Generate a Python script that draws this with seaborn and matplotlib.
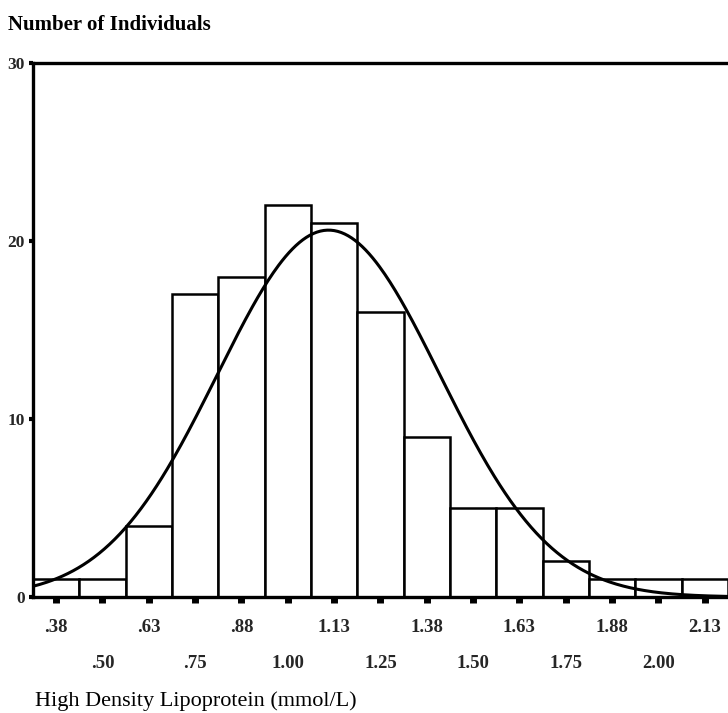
import numpy as np
import pandas as pd
import matplotlib
matplotlib.use("Agg")
import matplotlib.pyplot as plt
import seaborn as sns

# HDL bins (mmol/L, bin centres) and number of individuals per bin
bin_centers = [0.375, 0.50, 0.625, 0.75, 0.875, 1.00, 1.125, 1.25,
               1.375, 1.50, 1.625, 1.75, 1.875, 2.00, 2.125]
tick_labels = [".38", ".50", ".63", ".75", ".88", "1.00", "1.13", "1.25",
               "1.38", "1.50", "1.63", "1.75", "1.88", "2.00", "2.13"]
counts = [1, 1, 4, 17, 18, 22, 21, 16, 9, 5, 5, 2, 1, 1, 1]

# fitted normal curve parameters
fit_mean = 1.11
fit_sd = 0.30
bin_width = 0.125

sns.set_theme(style="white")
plt.rcParams["font.family"] = ["Liberation Serif", "DejaVu Serif"]

fig = plt.figure(figsize=(7.28, 7.13), dpi=100)
ax = fig.add_axes([0.0453, 0.1627, 0.9547 + 0.01, 0.7489])

df = pd.DataFrame({"hdl": bin_centers, "n": counts})
edges = [float(e) for e in
         np.arange(len(bin_centers) + 1) * bin_width + bin_centers[0] - bin_width / 2]
sns.histplot(data=df, x="hdl", weights="n", bins=edges, ax=ax,
             color="white", edgecolor="black", linewidth=1.8, alpha=1.0)

# normal curve scaled to the histogram
xs = np.linspace(edges[0], edges[-1], 400)
n_total = sum(counts)
ys = n_total * bin_width / (fit_sd * np.sqrt(2 * np.pi)) * np.exp(-0.5 * ((xs - fit_mean) / fit_sd) ** 2)
sns.lineplot(x=xs, y=ys, ax=ax, color="black", linewidth=2.2)

ax.set_xlim(edges[0], edges[-1] + 0.02)
ax.set_ylim(0, 30)

for side in ["left", "bottom", "top"]:
    ax.spines[side].set_color("black")
    ax.spines[side].set_linewidth(2.4)
ax.spines["right"].set_visible(False)

# staggered tick labels: two rows
ax.set_xticks(bin_centers[0::2], tick_labels[0::2])
ax.set_xticks(bin_centers[1::2], tick_labels[1::2], minor=True)
ax.tick_params(axis="x", which="both", bottom=True)
ax.tick_params(axis="x", which="major", direction="out", length=4, width=5,
               color="black", pad=12, labelsize=13.5)
ax.tick_params(axis="x", which="minor", direction="out", length=4, width=5,
               color="black", pad=38, labelsize=13.5)
for lbl in ax.get_xticklabels(which="both"):
    lbl.set_fontweight("bold")

ax.set_yticks([0, 10, 20, 30], ["0", "10", "20", "30"])
ax.tick_params(axis="y", left=True, direction="out", length=3, width=3,
               color="black", pad=3, labelsize=12.5)
for lbl in ax.get_yticklabels():
    lbl.set_fontweight("bold")

ax.set_xlabel("")
ax.set_ylabel("")
fig.text(0.048, 0.016, "High Density Lipoprotein (mmol/L)", fontsize=16,
         ha="left", va="center", color="black")
fig.text(0.011, 0.965, "Number of Individuals", fontsize=15, fontweight="bold",
         ha="left", va="center", color="black")

fig.savefig("out.png", dpi=100, facecolor="white")
